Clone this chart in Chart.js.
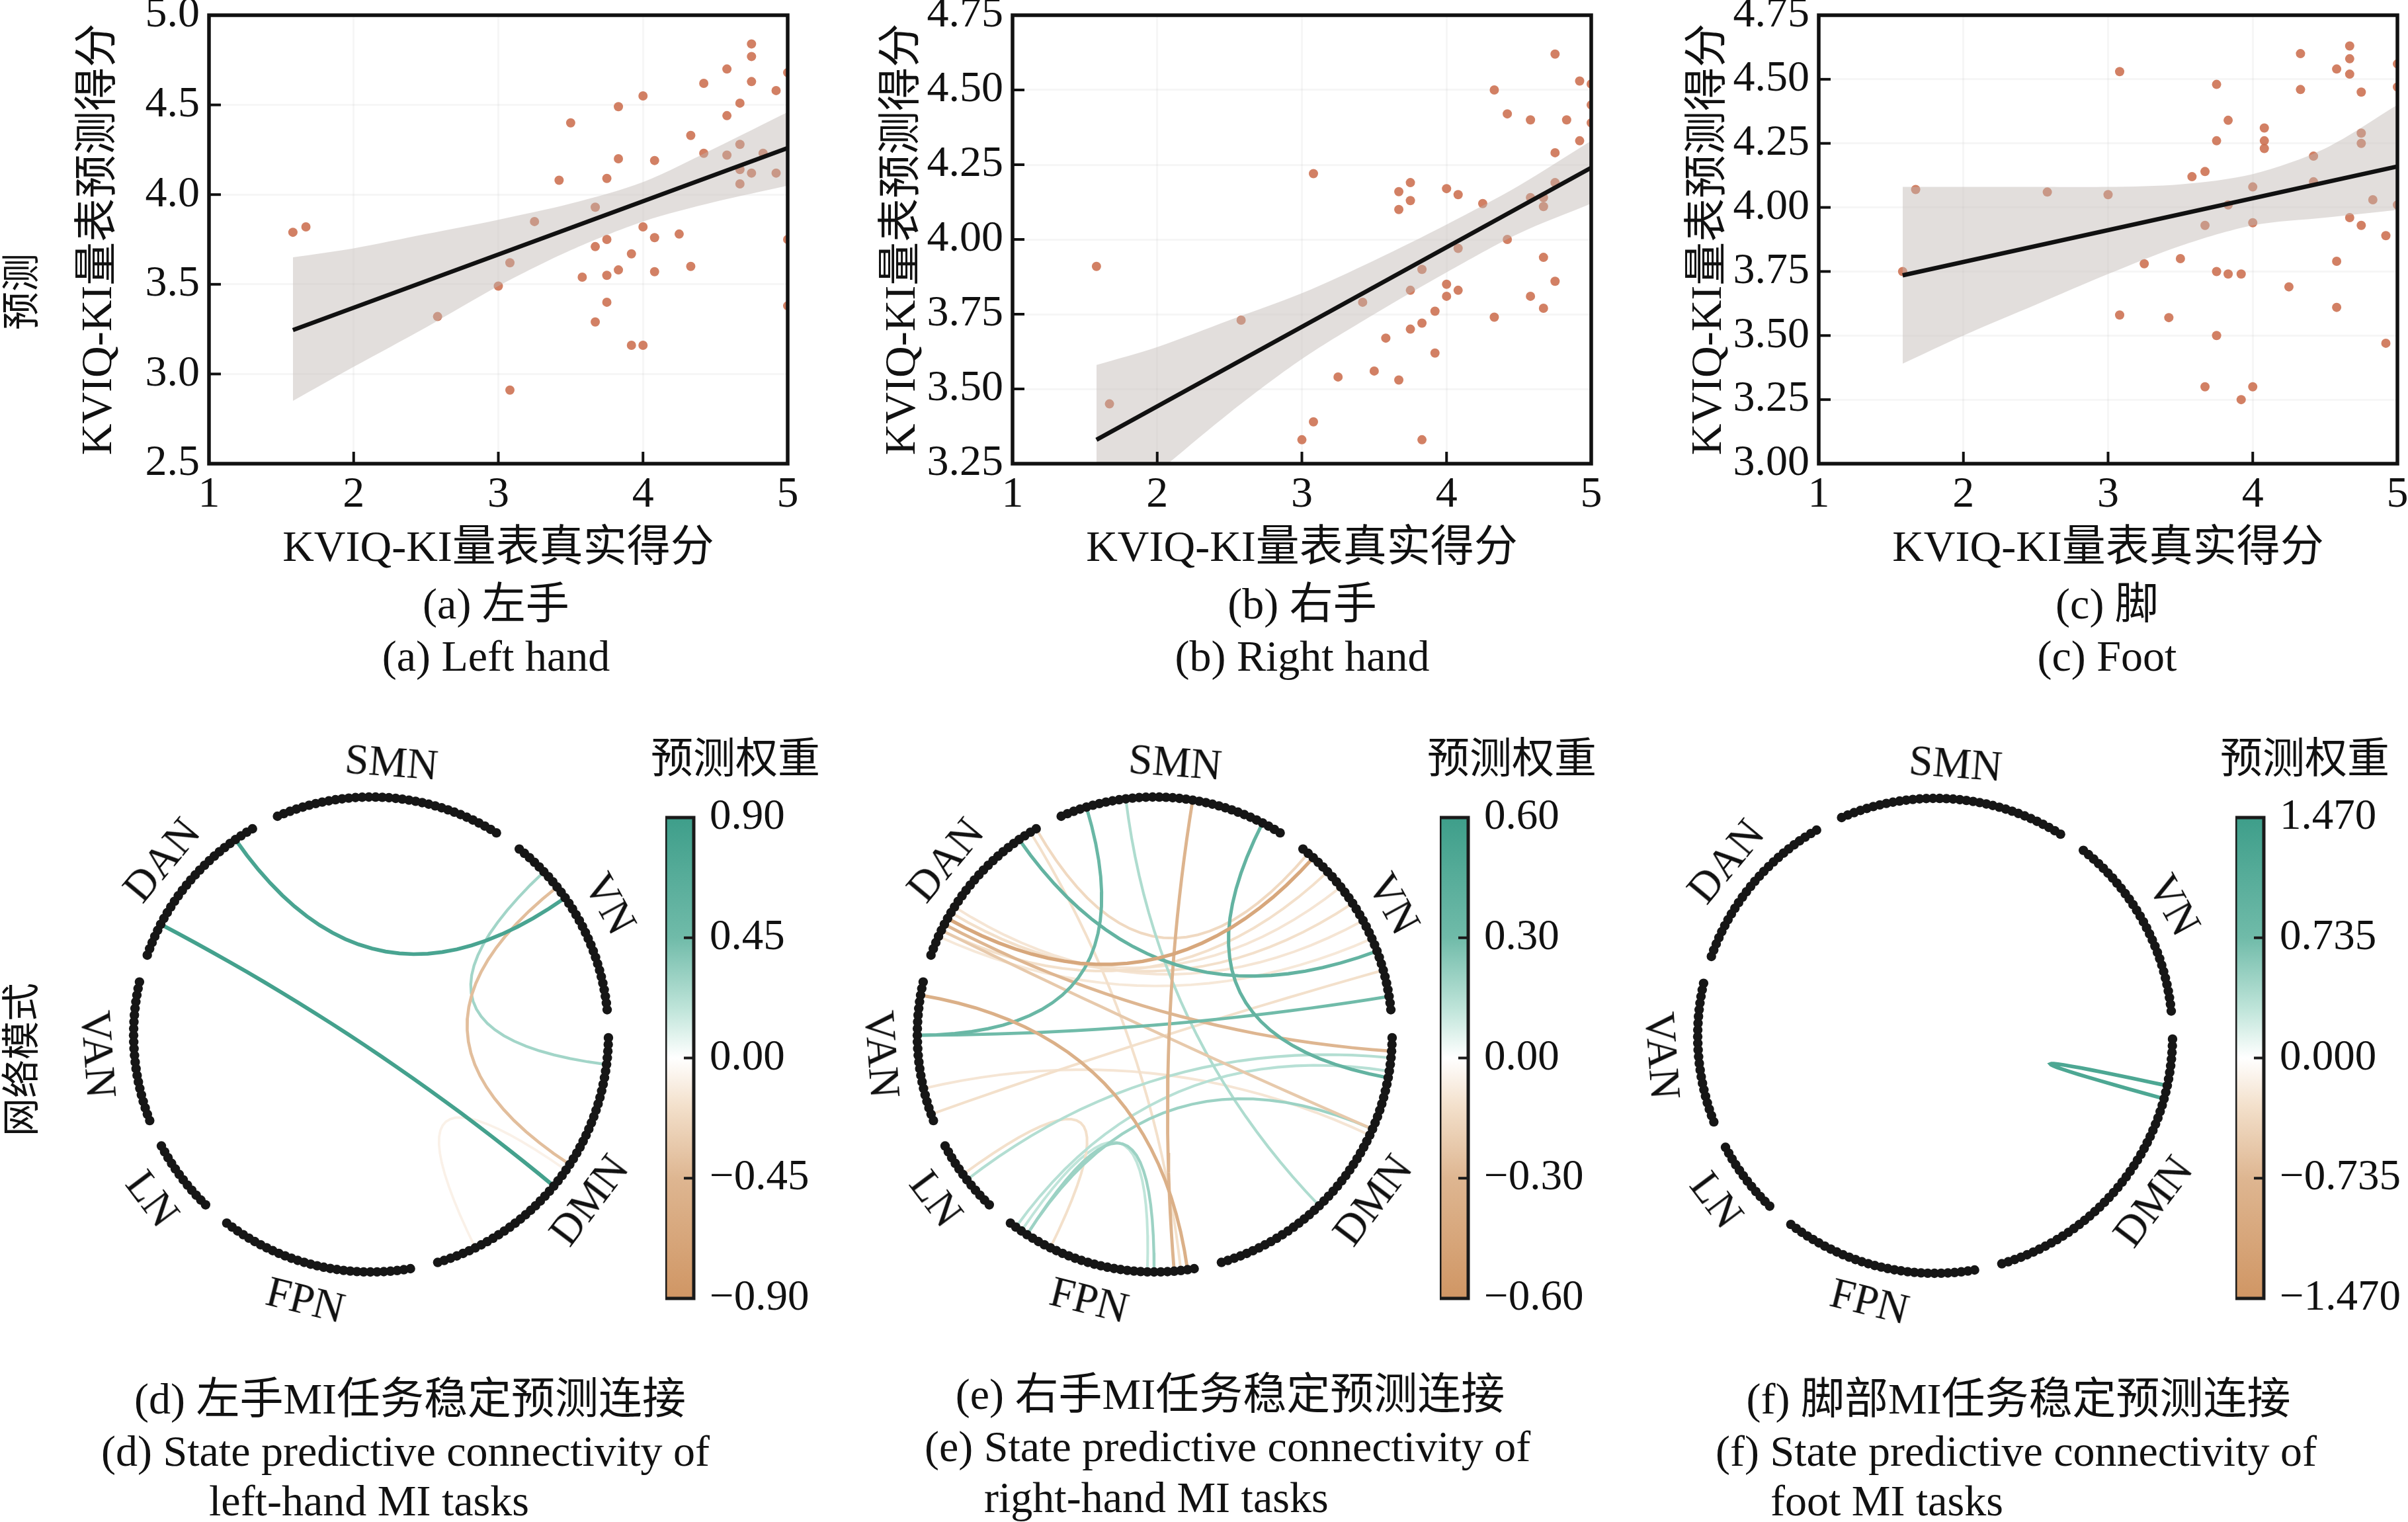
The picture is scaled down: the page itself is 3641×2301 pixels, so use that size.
<!DOCTYPE html>
<html lang="zh">
<head>
<meta charset="utf-8">
<title>KVIQ-KI 预测与网络模式</title>
<script src="https://cdn.jsdelivr.net/npm/chart.js@4.4.1/dist/chart.umd.min.js"></script>
<style>
  html, body { margin: 0; padding: 0; background: #fff; }
  #page {
    position: relative; width: 3641px; height: 2301px; overflow: hidden; background: #fff;
    font-family: "Liberation Serif", "Times New Roman", "Noto Sans CJK SC", serif; color: #111;
  }
  canvas { position: absolute; }
  .txt { position: absolute; white-space: nowrap; line-height: 1; }
</style>
</head>
<body>
<div id="page"></div>
<script>
// ---- scatter data (true score is shared by the three panels) ----
const trueScores = [1.58, 1.67, 2.58, 3.00, 3.08, 3.08, 3.25, 3.42, 3.50, 3.58,
  3.67, 3.67, 3.67, 3.75, 3.75, 3.75, 3.75, 3.83, 3.83, 3.83,
  3.92, 3.92, 4.00, 4.00, 4.00, 4.08, 4.08, 4.08, 4.25, 4.33,
  4.33, 4.42, 4.42, 4.58, 4.58, 4.58, 4.67, 4.67, 4.67, 4.67,
  4.75, 4.75, 4.75, 4.75, 4.83, 4.92, 4.92, 5.00, 5.00, 5.00];
const leftPred = [3.79, 3.82, 3.32, 3.49, 3.62, 2.91, 3.85, 4.08, 4.40, 3.54,
  3.93, 3.71, 3.29, 4.09, 3.75, 3.55, 3.40, 4.49, 4.20, 3.58,
  3.67, 3.16, 4.55, 3.82, 3.16, 4.19, 3.76, 3.57, 3.78, 4.33,
  3.60, 4.62, 4.23, 4.70, 4.44, 4.22, 4.51, 4.28, 4.14, 4.06,
  4.84, 4.77, 4.63, 4.12, 4.23, 4.58, 4.12, 4.68, 3.75, 3.38];
const rightPred = [3.91, 3.45, 3.73, 3.33, 3.39, 4.22, 3.54, 3.79, 3.56, 3.67,
  4.16, 4.10, 3.53, 4.19, 4.13, 3.83, 3.70, 3.90, 3.72, 3.33,
  3.76, 3.62, 4.17, 3.85, 3.81, 4.15, 3.97, 3.83, 4.12, 4.50,
  3.74, 4.42, 4.00, 4.40, 4.14, 3.81, 4.14, 4.11, 3.94, 3.77,
  4.62, 4.29, 4.19, 3.86, 4.40, 4.53, 4.33, 4.52, 4.45, 4.39];
const footPred = [3.75, 4.07, 4.06, 4.05, 4.53, 3.58, 3.78, 3.57, 3.80, 4.12,
  4.14, 3.93, 3.30, 4.48, 4.26, 3.75, 3.50, 4.34, 3.74, 4.01,
  3.74, 3.25, 4.08, 3.94, 3.30, 4.31, 4.26, 4.23, 3.69, 4.60,
  4.46, 4.20, 4.10, 4.54, 3.79, 3.61, 4.63, 4.58, 4.52, 3.96,
  4.45, 4.29, 4.25, 3.93, 4.03, 3.89, 3.47, 4.56, 4.47, 4.01];

// regression line ends and confidence band edges
const fitX = [1.58, 5.00];
const leftFit = [3.245, 4.26];
const rightFit = [3.33, 4.24];
const footFit = [3.735, 4.16];
const bandX = [1.58, 2.0, 2.5, 3.0, 3.5, 4.0, 4.5, 5.0];
const leftUpper = [3.65, 3.70, 3.78, 3.86, 3.95, 4.07, 4.26, 4.46];
const leftLower = [2.85, 3.04, 3.26, 3.49, 3.69, 3.85, 3.96, 4.05];
const rightUpper = [3.58, 3.64, 3.73, 3.82, 3.93, 4.05, 4.18, 4.33];
const rightLower = [3.05, 3.22, 3.42, 3.60, 3.75, 3.89, 4.02, 4.12];
const footUpper = [4.08, 4.08, 4.08, 4.08, 4.09, 4.13, 4.23, 4.40];
const footLower = [3.39, 3.50, 3.62, 3.74, 3.85, 3.93, 3.96, 3.99];

// tick labels
const xTicks = [1, 2, 3, 4, 5];
const leftTicks = [2.5, 3.0, 3.5, 4.0, 4.5, 5.0];
const rightTicks = [3.25, 3.50, 3.75, 4.00, 4.25, 4.50, 4.75];
const footTicks = [3.00, 3.25, 3.50, 3.75, 4.00, 4.25, 4.50, 4.75];

// ---- network circle data ----
const networks = ['VN', 'SMN', 'DAN', 'VAN', 'LN', 'FPN', 'DMN'];
const nodeCounts = [29, 35, 26, 22, 12, 30, 46];
// [network, node, network, node, weight]
const leftEdges = [
  ['DAN', 3, 'VN', 18, 0.80],
  ['DAN', 20, 'DMN', 21, 0.85],
  ['VN', 23, 'DMN', 41, 0.28],
  ['VN', 20, 'DMN', 25, -0.40],
  ['DMN', 6, 'DMN', 24, -0.08]
];
const rightEdges = [
  ['SMN', 30, 'VAN', 8, 0.34],
  ['SMN', 24, 'DMN', 17, 0.16],
  ['SMN', 14, 'FPN', 26, -0.32],
  ['SMN', 3, 'DMN', 39, 0.38],
  ['DAN', 3, 'VN', 9, 0.38],
  ['DAN', 19, 'VN', 26, -0.44],
  ['DAN', 20, 'DMN', 43, -0.30],
  ['DAN', 0, 'VN', 27, -0.15],
  ['VAN', 2, 'FPN', 28, -0.36],
  ['DAN', 1, 'FPN', 27, -0.12],
  ['LN', 6, 'DMN', 42, 0.15],
  ['FPN', 3, 'DMN', 31, 0.20],
  ['FPN', 1, 'DMN', 40, 0.14],
  ['FPN', 3, 'FPN', 23, 0.20],
  ['FPN', 2, 'FPN', 22, 0.12],
  ['FPN', 7, 'LN', 5, -0.12],
  ['VAN', 8, 'VN', 2, 0.30],
  ['VAN', 20, 'VN', 6, -0.12],
  ['DAN', 21, 'DMN', 31, -0.22],
  ['DAN', 17, 'VN', 14, -0.10],
  ['DAN', 18, 'VN', 17, -0.12],
  ['DAN', 18, 'VN', 20, -0.10],
  ['DAN', 21, 'VN', 23, -0.12],
  ['DAN', 22, 'VN', 11, -0.09],
  ['DMN', 30, 'VAN', 16, -0.10]
];
const footEdges = [
  ['DMN', 36, 'DMN', 38, 1.25]
];
const leftMax = 0.90, rightMax = 0.60, footMax = 1.470;
const leftBarTicks = [-0.90, -0.45, 0, 0.45, 0.90];
const rightBarTicks = [-0.60, -0.30, 0, 0.30, 0.60];
const footBarTicks = [-1.470, -0.735, 0, 0.735, 1.470];

// colour map: tan (negative) - white - teal (positive)
const cmapStops = [-1, -0.5, -0.2, 0, 0.2, 0.5, 1];
const cmapRGB = [[208, 150, 100], [222, 182, 145], [243, 224, 203], [255, 255, 255],
  [192, 229, 218], [112, 187, 169], [62, 158, 138]];

// layout of the circle (degrees, counter-clockwise from 3 o'clock)
const startAngle = 6.0, nodeStep = 1.62, netGap = 5.14;
const curveSteps = 24;

const FONT = '"Liberation Serif", "Times New Roman", "Noto Sans CJK SC", serif';
Chart.defaults.font.family = FONT;
Chart.defaults.color = '#111';
Chart.defaults.animation = false;
Chart.defaults.events = [];
Chart.defaults.plugins.legend.display = false;
Chart.defaults.plugins.tooltip.enabled = false;

const page = document.getElementById('page');

function addCanvas(id, left, top, w, h) {
  const cv = document.createElement('canvas');
  cv.id = id;
  cv.width = w;
  cv.height = h;
  cv.style.left = left + 'px';
  cv.style.top = top + 'px';
  cv.style.width = w + 'px';
  cv.style.height = h + 'px';
  page.appendChild(cv);
  return cv;
}

function addText(str, x, y, size, mode, rot) {
  const d = document.createElement('div');
  d.className = 'txt';
  d.textContent = str;
  d.style.left = x + 'px';
  d.style.top = y + 'px';
  d.style.fontSize = size + 'px';
  const shift = mode === 'l' ? 'translate(0,-50%)' : 'translate(-50%,-50%)';
  d.style.transform = shift + (rot ? ' rotate(' + rot + 'deg)' : '');
  if (mode === 'l') d.style.transformOrigin = '0 50%';
  page.appendChild(d);
}

function cmap(t) {
  t = Math.max(-1, Math.min(1, t));
  let i = 0;
  while (i < cmapStops.length - 2 && t > cmapStops[i + 1]) i++;
  const f = (t - cmapStops[i]) / (cmapStops[i + 1] - cmapStops[i]);
  const c = cmapRGB[i].map((v, j) => Math.round(v + f * (cmapRGB[i + 1][j] - v)));
  return 'rgb(' + c.join(',') + ')';
}

function minusFmt(v, digits) {
  return (v < 0 ? '\u2212' : '') + Math.abs(v).toFixed(digits);
}

// frame round the plot area with inward ticks
const boxPlugin = {
  id: 'box',
  afterDatasetsDraw(chart) {
    const { ctx, chartArea: a, scales } = chart;
    ctx.save();
    ctx.strokeStyle = '#111';
    ctx.lineWidth = 4;
    scales.x.ticks.forEach(t => {
      const px = scales.x.getPixelForValue(t.value);
      if (px > a.left + 5 && px < a.right - 5) {
        ctx.beginPath(); ctx.moveTo(px, a.bottom); ctx.lineTo(px, a.bottom - 18); ctx.stroke();
      }
    });
    scales.y.ticks.forEach(t => {
      const py = scales.y.getPixelForValue(t.value);
      if (py > a.top + 5 && py < a.bottom - 5) {
        ctx.beginPath(); ctx.moveTo(a.left, py); ctx.lineTo(a.left + 18, py); ctx.stroke();
      }
    });
    ctx.lineWidth = 5.5;
    ctx.strokeRect(a.left, a.top, a.right - a.left, a.bottom - a.top);
    ctx.restore();
  }
};

// frame of the colour bar, ticks pointing in from the right
const barPlugin = {
  id: 'barframe',
  afterDatasetsDraw(chart) {
    const { ctx, chartArea: a, scales } = chart;
    ctx.save();
    ctx.strokeStyle = '#1a1a1a';
    ctx.lineWidth = 4;
    scales.y.ticks.forEach(t => {
      const py = scales.y.getPixelForValue(t.value);
      if (py > a.top + 5 && py < a.bottom - 5) {
        ctx.beginPath(); ctx.moveTo(a.right, py); ctx.lineTo(a.right - 15, py); ctx.stroke();
      }
    });
    ctx.lineWidth = 5;
    ctx.strokeRect(a.left, a.top, a.right - a.left, a.bottom - a.top);
    ctx.restore();
  }
};

function scatterChart(id, boxLeft, pred, fit, upper, lower, yTicks, digits) {
  const cv = addCanvas(id, boxLeft - 300, -40, 1215, 940);
  const pts = trueScores.map((x, i) => ({ x: x, y: pred[i] }));
  return new Chart(cv, {
    type: 'scatter',
    data: {
      datasets: [
        { label: 'fit', data: fitX.map((x, i) => ({ x: x, y: fit[i] })), showLine: true,
          borderColor: '#111', borderWidth: 6.5, pointRadius: 0, order: 0, clip: 0 },
        { label: 'upper', data: bandX.map((x, i) => ({ x: x, y: upper[i] })), showLine: true,
          borderWidth: 0, pointRadius: 0, tension: 0.3, fill: '+1',
          backgroundColor: 'rgba(190,182,178,0.45)', order: 1, clip: 0 },
        { label: 'lower', data: bandX.map((x, i) => ({ x: x, y: lower[i] })), showLine: true,
          borderWidth: 0, pointRadius: 0, tension: 0.3, fill: false, order: 1, clip: 0 },
        { label: 'subjects', data: pts, pointRadius: 7, backgroundColor: 'rgba(204,110,78,0.88)',
          borderWidth: 0, order: 2, clip: 0 }
      ]
    },
    options: {
      responsive: false,
      maintainAspectRatio: false,
      devicePixelRatio: 1,
      layout: { padding: { top: 63, right: 40, bottom: 0, left: 0 } },
      scales: {
        x: {
          type: 'linear', min: 1, max: 5,
          afterBuildTicks: s => { s.ticks = xTicks.map(v => ({ value: v })); },
          afterFit: s => { s.height = 199; },
          ticks: { font: { size: 66 }, color: '#111', padding: 8, callback: v => String(v) },
          grid: { color: 'rgba(0,0,0,0.035)', lineWidth: 3, drawTicks: false },
          border: { display: false },
          title: { display: true, text: 'KVIQ-KI量表真实得分', font: { size: 66 }, color: '#111',
            padding: { top: 0, bottom: 30 } }
        },
        y: {
          type: 'linear', min: yTicks[0], max: yTicks[yTicks.length - 1],
          afterBuildTicks: s => { s.ticks = yTicks.map(v => ({ value: v })); },
          afterFit: s => { s.width = 300; },
          ticks: { font: { size: 66 }, color: '#111', padding: 14, callback: v => Number(v).toFixed(digits) },
          grid: { color: 'rgba(0,0,0,0.035)', lineWidth: 3, drawTicks: false },
          border: { display: false },
          title: { display: true, text: 'KVIQ-KI量表预测得分', font: { size: 66 }, color: '#111',
            padding: { top: 95, bottom: 0 } }
        }
      }
    },
    plugins: [boxPlugin]
  });
}

function nodeAngle(net, idx) {
  const n = networks.indexOf(net);
  let k = 0;
  for (let i = 0; i < n; i++) k += nodeCounts[i];
  return startAngle + (k + idx) * nodeStep + n * netGap;
}

function nodePos(net, idx) {
  const a = nodeAngle(net, idx) * Math.PI / 180;
  return { x: Math.cos(a), y: Math.sin(a) };
}

// path of one connection: quadratic curve with its control point at the centre
function chordPath(p0, p1) {
  const path = [];
  for (let s = 0; s <= curveSteps; s++) {
    const t = s / curveSteps;
    const a = (1 - t) * (1 - t), b = t * t;
    path.push({ x: a * p0.x + b * p1.x, y: a * p0.y + b * p1.y });
  }
  return path;
}

function chordChart(id, cx, cy, edges, vmax) {
  const cv = addCanvas(id, cx - 438, cy - 438, 876, 876);
  const nodes = [];
  networks.forEach((net, n) => {
    for (let i = 0; i < nodeCounts[n]; i++) nodes.push(nodePos(net, i));
  });
  // faint edges first, strong ones on top
  const sorted = edges.slice().sort((p, q) => Math.abs(p[4]) - Math.abs(q[4]));
  const edgeSets = sorted.map((e, k) => ({
    data: chordPath(nodePos(e[0], e[1]), nodePos(e[2], e[3])),
    showLine: true, tension: 0, pointRadius: 0,
    borderColor: cmap(e[4] / vmax), borderWidth: 3.5 + 2.5 * Math.abs(e[4]) / vmax,
    order: 100 - k, clip: false
  }));
  const nodeSet = { data: nodes, pointRadius: 7.2, backgroundColor: '#161616', borderWidth: 0, order: 0 };
  new Chart(cv, {
    type: 'scatter',
    data: { datasets: [nodeSet].concat(edgeSets) },
    options: {
      responsive: false,
      maintainAspectRatio: false,
      devicePixelRatio: 1,
      layout: { padding: 0 },
      scales: {
        x: { type: 'linear', min: -1.2, max: 1.2, display: false },
        y: { type: 'linear', min: -1.2, max: 1.2, display: false }
      }
    }
  });
  // network names round the circle
  networks.forEach((net, n) => {
    const mid = nodeAngle(net, (nodeCounts[n] - 1) / 2);
    const a = mid * Math.PI / 180;
    const rot = (mid > 0 && mid < 180) ? 90 - mid : 270 - mid;
    addText(net, cx + 413 * Math.cos(a), cy - 413 * Math.sin(a), 65, 'c', rot);
  });
}

function colorBar(id, left, top, vmax, ticks, digits) {
  const cv = addCanvas(id, left, top - 40, 43 + 240, 757 + 80);
  new Chart(cv, {
    type: 'bar',
    data: {
      labels: ['w'],
      datasets: [{
        data: [[-vmax, vmax]],
        barPercentage: 1, categoryPercentage: 1, borderWidth: 0, borderSkipped: false,
        backgroundColor: c => {
          const a = c.chart.chartArea;
          if (!a) return '#fff';
          const g = c.chart.ctx.createLinearGradient(0, a.top, 0, a.bottom);
          cmapStops.forEach((s, i) => g.addColorStop((1 - s) / 2, 'rgb(' + cmapRGB[i].join(',') + ')'));
          return g;
        }
      }]
    },
    options: {
      responsive: false,
      maintainAspectRatio: false,
      devicePixelRatio: 1,
      layout: { padding: { top: 40, bottom: 40, left: 0, right: 0 } },
      scales: {
        x: { display: false },
        y: {
          position: 'right', min: -vmax, max: vmax,
          afterBuildTicks: s => { s.ticks = ticks.map(v => ({ value: v })); },
          afterFit: s => { s.width = 240; },
          ticks: { font: { size: 65 }, color: '#111', padding: 16, callback: v => minusFmt(v, digits) },
          grid: { display: false },
          border: { display: false }
        }
      }
    },
    plugins: [barPlugin]
  });
}

// ---- top row: predicted vs true scores ----
scatterChart('leftHand', 316, leftPred, leftFit, leftUpper, leftLower, leftTicks, 1);
scatterChart('rightHand', 1531, rightPred, rightFit, rightUpper, rightLower, rightTicks, 2);
scatterChart('foot', 2750, footPred, footFit, footUpper, footLower, footTicks, 2);

addText('预测', 33, 441, 58, 'c', -90);
addText('(a) 左手', 750, 913, 66, 'c');
addText('(a) Left hand', 750, 992, 66, 'c');
addText('(b) 右手', 1969, 913, 66, 'c');
addText('(b) Right hand', 1969, 992, 66, 'c');
addText('(c) 脚', 3186, 913, 66, 'c');
addText('(c) Foot', 3186, 992, 66, 'c');

// ---- bottom row: stable predictive connectivity ----
chordChart('leftNet', 561, 1564, leftEdges, leftMax);
chordChart('rightNet', 1746, 1564, rightEdges, rightMax);
chordChart('footNet', 2926, 1566, footEdges, footMax);

colorBar('leftBar', 1006, 1221, leftMax, leftBarTicks, 2);
colorBar('rightBar', 2177, 1221, rightMax, rightBarTicks, 2);
colorBar('footBar', 3380, 1221, footMax, footBarTicks, 3);

addText('预测权重', 1112, 1147, 64, 'c');
addText('预测权重', 2286, 1147, 64, 'c');
addText('预测权重', 3485, 1147, 64, 'c');

addText('网络模式', 33, 1602, 58, 'c', -90);
addText('(d) 左手MI任务稳定预测连接', 620, 2115, 66, 'c');
addText('(d) State predictive connectivity of', 153, 2194, 66, 'l');
addText('left-hand MI tasks', 316, 2269, 66, 'l');
addText('(e) 右手MI任务稳定预测连接', 1860, 2108, 66, 'c');
addText('(e) State predictive connectivity of', 1398, 2187, 66, 'l');
addText('right-hand MI tasks', 1488, 2264, 66, 'l');
addText('(f) 脚部MI任务稳定预测连接', 3052, 2115, 66, 'c');
addText('(f) State predictive connectivity of', 2594, 2194, 66, 'l');
addText('foot MI tasks', 2677, 2269, 66, 'l');
</script>
</body>
</html>
